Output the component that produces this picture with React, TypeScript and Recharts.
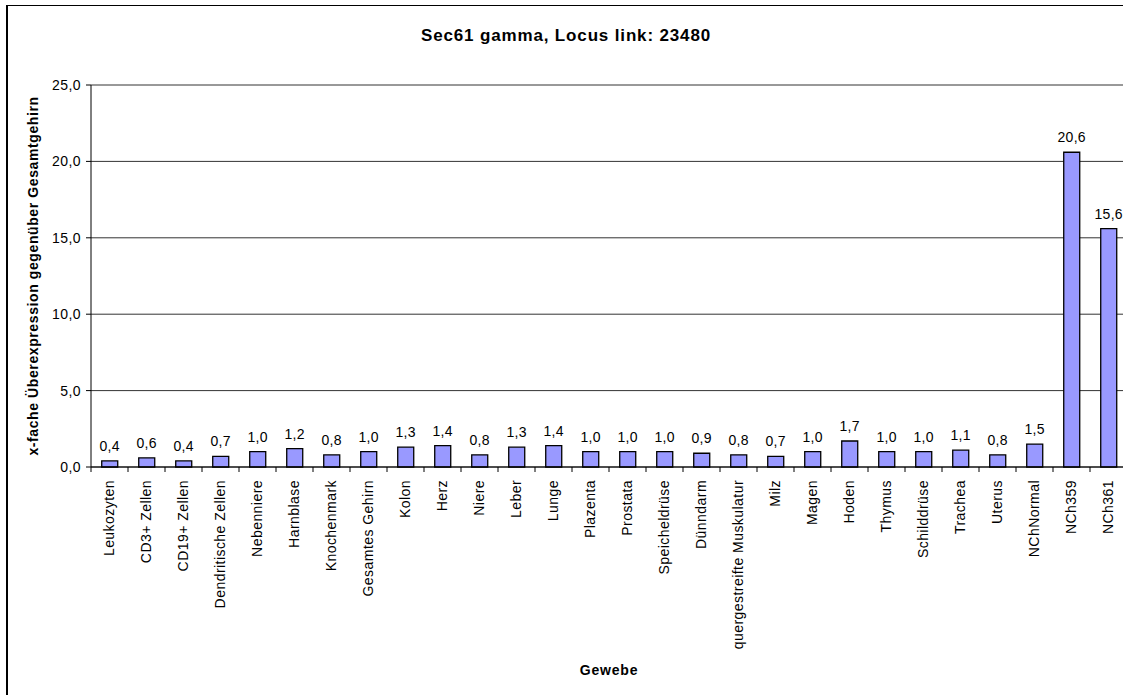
import React from 'react'
import { BarChart, Bar, XAxis, YAxis, CartesianGrid, LabelList, Label } from 'recharts'

const categories = [
  'Leukozyten', 'CD3+ Zellen', 'CD19+ Zellen', 'Dendritische Zellen', 'Nebenniere',
  'Harnblase', 'Knochenmark', 'Gesamtes Gehirn', 'Kolon', 'Herz', 'Niere', 'Leber',
  'Lunge', 'Plazenta', 'Prostata', 'Speicheldrüse', 'Dünndarm', 'quergestreifte Muskulatur',
  'Milz', 'Magen', 'Hoden', 'Thymus', 'Schilddrüse', 'Trachea', 'Uterus', 'NChNormal',
  'NCh359', 'NCh361',
]
const values = [
  0.4, 0.6, 0.4, 0.7, 1.0, 1.2, 0.8, 1.0, 1.3, 1.4, 0.8, 1.3, 1.4, 1.0,
  1.0, 1.0, 0.9, 0.8, 0.7, 1.0, 1.7, 1.0, 1.0, 1.1, 0.8, 1.5, 20.6, 15.6,
]
const yTicks = [0, 5, 10, 15, 20, 25]

const data = categories.map((name, i) => ({ name, value: values[i] }))

const FONT = '"Liberation Sans", Arial, sans-serif'
const PLOT_LEFT = 91
const PLOT_RIGHT = 1127
const PLOT_TOP = 85
const PLOT_BOTTOM = 467
const CHART_W = 1140
const CHART_H = 695
const BAND = (PLOT_RIGHT - PLOT_LEFT) / categories.length
const FS = 14

const fmt = (v: number) => v.toFixed(1).replace('.', ',')

const XTick = (props: any) => {
  const { x, y, payload } = props
  return (
    <g>
      <line x1={x - BAND / 2} x2={x - BAND / 2} y1={PLOT_BOTTOM} y2={PLOT_BOTTOM + 5} stroke="#000" />
      <text
        x={x}
        y={y}
        transform={`rotate(-90 ${x} ${y})`}
        textAnchor="end"
        dy="0.35em"
        fontSize={FS}
        letterSpacing={0.45}
        fill="#000"
        fontFamily={FONT}
      >
        {payload.value}
      </text>
    </g>
  )
}

const YLabel = (props: any) => {
  const vb = props.viewBox
  const cy = vb.y + vb.height / 2
  return (
    <text
      x={33}
      y={cy}
      transform={`rotate(-90 33 ${cy})`}
      textAnchor="middle"
      dy="0.35em"
      fontSize={14}
      fontWeight="bold"
      letterSpacing={0.6}
      fill="#000"
      fontFamily={FONT}
    >
      x-fache Überexpression gegenüber Gesamtgehirn
    </text>
  )
}

export default function App() {
  return (
    <div
      style={{
        position: 'fixed', left: 0, top: 0, width: 1123, height: 695,
        overflow: 'hidden', background: '#fff', fontFamily: FONT,
      }}
    >
      <div
        style={{
          position: 'absolute', left: 6, top: 5, width: 1300, height: 800,
          borderLeft: '2px solid #000', borderTop: '1px solid #000',
        }}
      />
      <div
        style={{
          position: 'absolute', left: 0, top: 26, width: 1132, textAlign: 'center',
          fontSize: 17, fontWeight: 'bold', letterSpacing: 0.85, color: '#000',
        }}
      >
        Sec61 gamma, Locus link: 23480
      </div>
      <div
        style={{
          position: 'absolute', left: 0, top: 662, width: (PLOT_LEFT + PLOT_RIGHT), textAlign: 'center',
          fontSize: 14, fontWeight: 'bold', letterSpacing: 0.8, color: '#000',
        }}
      >
        Gewebe
      </div>
      <div style={{ position: 'absolute', left: 0, top: 0 }}>
        <BarChart
          width={CHART_W}
          height={CHART_H}
          data={data}
          margin={{ top: PLOT_TOP, right: CHART_W - PLOT_RIGHT, left: 0, bottom: 0 }}
          barCategoryGap="29%"
        >
          <CartesianGrid horizontal vertical={false} stroke="#333" />
          <XAxis
            dataKey="name"
            interval={0}
            height={CHART_H - PLOT_BOTTOM}
            axisLine={{ stroke: '#000' }}
            tickLine={false}
            tickSize={5}
            tickMargin={8}
            tick={<XTick />}
          />
          <YAxis
            width={PLOT_LEFT}
            domain={[0, 25]}
            ticks={yTicks}
            tickFormatter={fmt}
            axisLine={{ stroke: '#000' }}
            tickLine={{ stroke: '#000' }}
            tickSize={5}
            tickMargin={5}
            tick={{ fill: '#000', fontSize: FS, fontFamily: FONT, letterSpacing: 0.45 }}
          >
            <Label content={<YLabel />} />
          </YAxis>
          <Bar dataKey="value" fill="#9999FF" stroke="#000" strokeWidth={1.3} isAnimationActive={false}>
            <LabelList
              dataKey="value"
              position="top"
              offset={10}
              formatter={(v: any) => fmt(Number(v))}
              fill="#000"
              fontSize={FS}
              fontFamily={FONT}
              letterSpacing={0.3}
            />
          </Bar>
        </BarChart>
      </div>
    </div>
  )
}
